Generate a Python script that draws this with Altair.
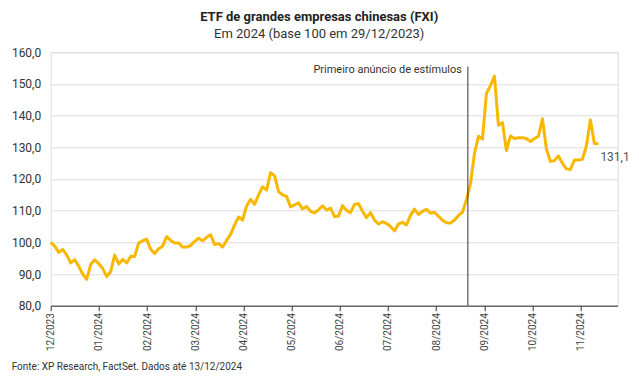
import altair as alt
import pandas as pd

# Month tick labels (one tick per month, equally spaced on the axis)
month_labels = ["12/2023", "01/2024", "02/2024", "03/2024", "04/2024", "05/2024",
                "06/2024", "07/2024", "08/2024", "09/2024", "10/2024", "11/2024"]

# Y axis tick values
y_ticks = [80, 90, 100, 110, 120, 130, 140, 150, 160]

# FXI, base 100 on 29/12/2023 at regular intervals
values = [
    100.0, 98.8, 96.8, 97.8, 96.0, 93.5, 94.5, 92.5, 90.0, 88.3,
    93.0, 94.5, 93.3, 91.8, 89.2, 90.7, 96.0, 93.2, 94.6, 93.5,
    95.6, 95.5, 99.8, 100.5, 101.0, 97.8, 96.5, 98.0, 98.8, 101.8,
    100.6, 99.8, 99.8, 98.5, 98.5, 99.0, 100.3, 101.3, 100.5, 101.6,
    102.4, 99.3, 99.6, 98.5, 100.6, 102.5, 105.5, 108.0, 107.0, 111.5,
    113.6, 112.0, 115.0, 117.5, 116.5, 122.0, 121.0, 116.0, 115.0, 114.5,
    111.2, 111.8, 112.5, 110.5, 111.3, 109.8, 109.3, 110.3, 111.5, 110.2,
    110.8, 108.1, 108.3, 111.6, 110.1, 109.4, 112.0, 112.2, 109.8, 107.8,
    109.4, 107.0, 105.8, 106.5, 106.0, 105.0, 103.6, 105.8, 106.3, 105.5,
    108.5, 110.5, 108.8, 109.8, 110.4, 109.2, 109.5, 108.2, 107.0, 106.2,
    106.1, 107.0, 108.5, 109.5, 113.5, 118.5, 128.0, 133.5, 132.6, 147.0,
    149.5, 152.5, 137.0, 137.8, 129.0, 133.6, 132.8, 133.0, 133.0, 132.8,
    131.8, 132.8, 133.5, 139.0, 129.5, 125.5, 125.8, 127.3, 125.0, 123.2,
    123.0, 126.0, 126.0, 126.2, 130.5, 138.6, 131.2, 131.1,
]
samples_per_month = 12.05          # sampling density of the series above
axis_end_months = 11.77            # axis extends a little past the last point
event_month = [8.66]               # 24/09/2024, first stimulus announcement
event_text = ["Primeiro anúncio de estímulos"]
footer_text = ["Fonte: XP Research, FactSet. Dados até 13/12/2024"]

df = pd.DataFrame({"t": [i / samples_per_month for i in range(len(values))],
                   "v": values})
last = df.tail(1).copy()
last["lab"] = [f"{x:.1f}".replace(".", ",") for x in last["v"]]
ev = pd.DataFrame({"t": event_month, "top": [155.5], "bottom": [80.0],
                   "ly": [154.4], "label": event_text})
foot = pd.DataFrame({"s": footer_text})

FONT = "Roboto"
arr = "[" + ",".join(f"'{m}'" for m in month_labels) + "]"

xs = alt.Scale(domain=[0, axis_end_months], nice=False, zero=False)
ys = alt.Scale(domain=[80, 160], nice=False, zero=False)

x_axis = alt.Axis(values=list(range(len(month_labels))), labelExpr=f"{arr}[datum.value]",
                  labelAngle=270, grid=False, domainColor="#333", tickColor="#333",
                  tickSize=5, labelFontSize=10, labelColor="#444", labelFont=FONT,
                  labelPadding=2, labelOverlap=False, labelFlush=False, title=None)
y_axis = alt.Axis(values=y_ticks,
                  labelExpr="replace(format(datum.value, '.1f'), '.', ',')",
                  grid=True, gridColor="#dddddd", domain=False, ticks=False,
                  labelFontSize=12, labelColor="#333", labelFont=FONT,
                  labelPadding=10, labelOverlap=False, labelFlush=False, title=None)


def X(field):
    return alt.X(field, type="quantitative", scale=xs, axis=x_axis)


def Y(field):
    return alt.Y(field, type="quantitative", scale=ys, axis=y_axis)


line = alt.Chart(df).mark_line(color="#F9B800", strokeWidth=3, strokeJoin="round").encode(
    x=X("t"), y=Y("v"))

rule = alt.Chart(ev).mark_rule(color="#333", strokeWidth=1).encode(
    x=X("t"), y=Y("top"), y2="bottom:Q")

ev_text = alt.Chart(ev).mark_text(align="right", baseline="middle", dx=-6,
                                  fontSize=11, font=FONT, color="#333").encode(
    x=X("t"), y=Y("ly"), text="label:N")

end_text = alt.Chart(last).mark_text(align="left", baseline="middle", dx=2, dy=13,
                                     fontSize=12, font=FONT, color="#555").encode(
    x=X("t"), y=Y("v"), text="lab:N")

footer = alt.Chart(foot).mark_text(align="left", baseline="alphabetic", fontSize=10,
                                   font=FONT, color="#333").encode(
    x=alt.value(-39), y=alt.value(318), text="s:N")

chart = alt.layer(line, rule, ev_text, end_text, footer).properties(
    width=567, height=253.4,
    padding={"left": 42.7, "top": 44.3, "right": 13, "bottom": 67},
    autosize=alt.AutoSizeParams(type="none"),
    title=alt.TitleParams(
        text="ETF de grandes empresas chinesas (FXI)",
        subtitle="Em 2024 (base 100 em 29/12/2023)",
        anchor="middle", dx=-15, offset=5,
        font=FONT, fontSize=13, fontWeight="bold", color="#222",
        subtitleFont=FONT, subtitleFontSize=13, subtitleColor="#333",
        subtitlePadding=4,
    ),
).configure_view(stroke=None).configure(background="white")

chart.save("out.html", embed_options={"renderer": "svg", "actions": False})
